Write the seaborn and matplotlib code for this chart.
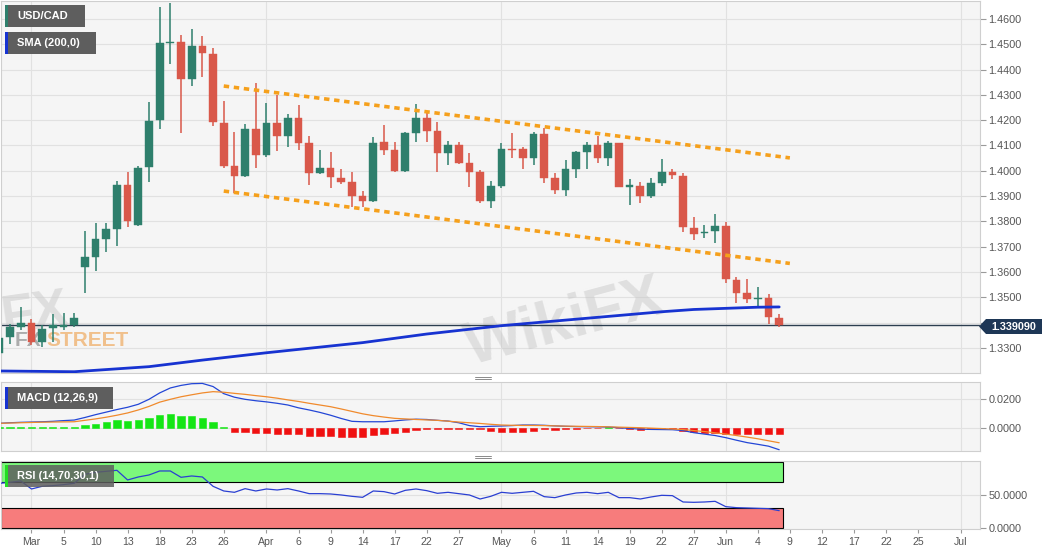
import numpy as np
import pandas as pd
import matplotlib
matplotlib.use("Agg")
import matplotlib.pyplot as plt
from matplotlib.patches import Rectangle, Polygon
from matplotlib.lines import Line2D
import seaborn as sns

# ---- data ----
start_day = "2020-02-26"

opens = [1.3280, 1.3342, 1.3384, 1.3400, 1.3322, 1.3379, 1.3381, 1.3391,
         1.3621, 1.3660, 1.3730, 1.3770, 1.3944, 1.3786, 1.4016, 1.4201, 1.4504, 1.4510,
         1.4363, 1.4493, 1.4462, 1.4190, 1.4019, 1.3981, 1.4164, 1.4062, 1.4188, 1.4138,
         1.4208, 1.4109, 1.3992, 1.4010, 1.3973, 1.3955, 1.3902, 1.3882, 1.4113, 1.4082,
         1.3999, 1.4148, 1.4208, 1.4158, 1.4072, 1.4102, 1.4032, 1.3996, 1.3881, 1.3941,
         1.4088, 1.4086, 1.4049, 1.4144, 1.3970, 1.3924, 1.4006, 1.4075, 1.4100, 1.4052,
         1.4109, 1.3937, 1.3940, 1.3900, 1.3953, 1.3996, 1.3980, 1.3775, 1.3753, 1.3762,
         1.3782, 1.3568, 1.3516, 1.3493, 1.3498, 1.3417]
highs = [1.3345, 1.3394, 1.3460, 1.3413, 1.3390, 1.3435, 1.3437, 1.3437,
         1.3762, 1.3792, 1.3792, 1.3960, 1.3994, 1.4020, 1.4273, 1.4649, 1.4664, 1.4537,
         1.4559, 1.4533, 1.4484, 1.4276, 1.4153, 1.4184, 1.4348, 1.4269, 1.4300, 1.4225,
         1.4260, 1.4138, 1.4082, 1.4075, 1.4006, 1.3996, 1.3920, 1.4132, 1.4180, 1.4115,
         1.4152, 1.4263, 1.4234, 1.4194, 1.4119, 1.4115, 1.4072, 1.4003, 1.3960, 1.4109,
         1.4151, 1.4093, 1.4155, 1.4168, 1.3990, 1.4043, 1.4080, 1.4113, 1.4138, 1.4118,
         1.4111, 1.3966, 1.3957, 1.3970, 1.4045, 1.4006, 1.3990, 1.3819, 1.3786, 1.3829,
         1.3799, 1.3582, 1.3571, 1.3540, 1.3513, 1.3434]
lows = [1.3270, 1.3315, 1.3370, 1.3310, 1.3305, 1.3325, 1.3370, 1.3384,
        1.3516, 1.3605, 1.3678, 1.3704, 1.3779, 1.3780, 1.3957, 1.4164, 1.4421, 1.4148,
        1.4335, 1.4372, 1.4177, 1.4010, 1.3913, 1.3975, 1.4010, 1.4055, 1.4078, 1.4093,
        1.4082, 1.3944, 1.3987, 1.3931, 1.3948, 1.3858, 1.3858, 1.3876, 1.4062, 1.3995,
        1.3995, 1.4113, 1.4113, 1.3996, 1.4023, 1.4027, 1.3935, 1.3874, 1.3852, 1.3931,
        1.4049, 1.4006, 1.4023, 1.3951, 1.3908, 1.3900, 1.3970, 1.4006, 1.4030, 1.4019,
        1.3935, 1.3865, 1.3872, 1.3891, 1.3940, 1.3966, 1.3759, 1.3726, 1.3733, 1.3716,
        1.3555, 1.3479, 1.3476, 1.3463, 1.3394, 1.3384]
closes = [1.3339, 1.3384, 1.3400, 1.3325, 1.3374, 1.3391, 1.3392, 1.3417,
          1.3660, 1.3729, 1.3769, 1.3944, 1.3803, 1.4010, 1.4198, 1.4504, 1.4510, 1.4363,
          1.4493, 1.4464, 1.4192, 1.4019, 1.3981, 1.4165, 1.4062, 1.4188, 1.4138, 1.4208,
          1.4111, 1.3992, 1.4010, 1.3974, 1.3956, 1.3902, 1.3882, 1.4111, 1.4082, 1.3999,
          1.4148, 1.4208, 1.4158, 1.4072, 1.4102, 1.4032, 1.3996, 1.3881, 1.3941, 1.4086,
          1.4083, 1.4049, 1.4144, 1.3970, 1.3924, 1.4006, 1.4075, 1.4100, 1.4049, 1.4109,
          1.3937, 1.3941, 1.3900, 1.3953, 1.3996, 1.3983, 1.3777, 1.3750, 1.3759, 1.3782,
          1.3571, 1.3518, 1.3493, 1.3498, 1.3421, 1.33909]
last_price = 1.33909

sma_days = ["2020-02-26", "2020-03-06", "2020-03-17", "2020-03-24", "2020-04-01",
            "2020-04-14", "2020-04-22", "2020-05-01", "2020-05-14", "2020-05-22",
            "2020-05-27", "2020-06-04", "2020-06-08"]
sma_vals = [1.3209, 1.3206, 1.3226, 1.3252, 1.3281, 1.3321, 1.3355, 1.3388,
            1.3421, 1.3443, 1.3452, 1.3461, 1.3462]

channel_days = ["2020-03-26", "2020-06-09"]
channel_upper = [1.4335, 1.4051]
channel_lower = [1.3920, 1.3634]

macd = [0.0031, 0.0035, 0.0038, 0.0040, 0.0042, 0.0045, 0.0050, 0.0054,
        0.0072, 0.0092, 0.0110, 0.0128, 0.0144, 0.0165, 0.0200, 0.0245, 0.0280, 0.0298,
        0.0310, 0.0312, 0.0290, 0.0240, 0.0215, 0.0200, 0.0190, 0.0182, 0.0172, 0.0160,
        0.0140, 0.0125, 0.0108, 0.0088, 0.0065, 0.0045, 0.0042, 0.0042, 0.0042, 0.0048,
        0.0055, 0.0060, 0.0058, 0.0052, 0.0047, 0.0035, 0.0015, 0.0007, 0.0010, 0.0012,
        0.0015, 0.0019, 0.0019, 0.0017, 0.0013, 0.0010, 0.0008, 0.0007, 0.0006, 0.0005,
        0.0000, -0.0005, -0.0010, -0.0012, -0.0013, -0.0014, -0.0020, -0.0035, -0.0045, -0.0055,
        -0.0070, -0.0088, -0.0105, -0.0117, -0.0130, -0.0155]
signal = [0.0031, 0.0033, 0.0035, 0.0037, 0.0039, 0.0040, 0.0041, 0.0042,
          0.0052, 0.0062, 0.0074, 0.0088, 0.0104, 0.0125, 0.0150, 0.0180, 0.0200, 0.0218,
          0.0232, 0.0245, 0.0254, 0.0250, 0.0242, 0.0235, 0.0226, 0.0218, 0.0208, 0.0196,
          0.0185, 0.0172, 0.0160, 0.0148, 0.0132, 0.0115, 0.0098, 0.0085, 0.0075, 0.0066,
          0.0062, 0.0058, 0.0055, 0.0052, 0.0046, 0.0040, 0.0035, 0.0030, 0.0024, 0.0019,
          0.0017, 0.0016, 0.0016, 0.0015, 0.0013, 0.0011, 0.0010, 0.0009, 0.0008, 0.0006,
          0.0004, 0.0002, 0.0000, -0.0003, -0.0006, -0.0009, -0.0013, -0.0020, -0.0027, -0.0036,
          -0.0045, -0.0055, -0.0066, -0.0078, -0.0092, -0.0106]
hist = [0.0003, 0.0004, 0.0004, 0.0004, 0.0004, 0.0004, 0.0004, 0.0005,
        0.0019, 0.0028, 0.0038, 0.0052, 0.0049, 0.0056, 0.0066, 0.0089, 0.0094, 0.0085,
        0.0080, 0.0066, 0.0038, 0.0005, -0.0028, -0.0033, -0.0040, -0.0040, -0.0042, -0.0042,
        -0.0045, -0.0056, -0.0059, -0.0061, -0.0063, -0.0068, -0.0066, -0.0052, -0.0042, -0.0040,
        -0.0028, -0.0016, -0.0008, -0.0008, -0.0008, -0.0008, -0.0008, -0.0010, -0.0023, -0.0033,
        -0.0033, -0.0028, -0.0021, -0.0010, -0.0016, -0.0012, -0.0010, -0.0004, -0.0003, 0.0003,
        -0.0005, -0.0006, -0.0014, -0.0012, -0.0009, -0.0009, -0.0020, -0.0028, -0.0035, -0.0040,
        -0.0045, -0.0045, -0.0045, -0.0045, -0.0045, -0.0045]
rsi = [67.5, 69, 71, 59, 63, 64, 65.5, 67.5,
       81, 84, 85.5, 87, 72.5, 77, 80, 86, 86, 76.5,
       78.5, 77, 63, 56, 54, 59.5, 56, 59, 57.5, 59.5,
       56, 52, 52, 51.5, 50, 48, 46.5, 56, 55, 51.5,
       57, 59, 56.5, 52.5, 54, 52, 50, 44, 48, 54,
       52.5, 54, 55.5, 47.5, 46, 50, 53, 54, 52, 54,
       46, 46, 44, 47, 49.5, 49, 39.5, 39, 39.5, 40.5,
       32.5, 31, 30.5, 30, 29.5, 26.5]

tick_days = ["2020-03-02", "2020-03-05", "2020-03-10", "2020-03-13", "2020-03-18",
             "2020-03-23", "2020-03-26", "2020-04-01", "2020-04-06", "2020-04-09",
             "2020-04-14", "2020-04-17", "2020-04-22", "2020-04-27", "2020-05-01",
             "2020-05-06", "2020-05-11", "2020-05-14", "2020-05-19", "2020-05-22",
             "2020-05-27", "2020-06-01", "2020-06-04", "2020-06-09", "2020-06-12",
             "2020-06-17", "2020-06-22", "2020-06-25", "2020-07-01"]
tick_labels = ["Mar", "5", "10", "13", "18", "23", "26", "Apr", "6", "9", "14", "17",
               "22", "27", "May", "6", "11", "14", "19", "22", "27", "Jun", "4", "9",
               "12", "17", "22", "25", "Jul"]
month_days = ["2020-03-02", "2020-04-01", "2020-05-01", "2020-06-01", "2020-07-01"]

# trading-day axis (weekends skipped)
cal = pd.bdate_range(start_day, "2020-07-01")
pos = {d.strftime("%Y-%m-%d"): i for i, d in enumerate(cal)}
x = np.arange(len(opens))

GREEN = "#2e7f6c"
RED = "#d9584a"
BG = "#f5f5f5"
GRID = "#e1e1e1"
W, H = 1060, 555


def fx(px):
    return px / W


def fy(py):
    return 1 - py / H


sns.set_theme(style="white")
plt.rcParams["font.family"] = ["Liberation Sans", "DejaVu Sans"]

fig = plt.figure(figsize=(W / 100, H / 100), dpi=100)
fig.patch.set_facecolor("white")
ax = fig.add_axes([fx(0.5), fy(373), fx(979.5), 372 / H])
axm = fig.add_axes([fx(0.5), fy(451), fx(979.5), 69 / H], sharex=ax)
axr = fig.add_axes([fx(0.5), fy(529), fx(979.5), 68.3 / H], sharex=ax)

for a in (ax, axm, axr):
    a.set_facecolor(BG)
    for s in a.spines.values():
        s.set_color("#cfcfcf")
        s.set_linewidth(0.8)
    a.yaxis.tick_right()
    a.tick_params(axis="y", length=4, width=0.8, color="#9a9a9a", labelcolor="#555555",
                  labelsize=7.8, pad=2, right=True, left=False)
    for m in month_days:
        a.axvline(pos[m], color=GRID, lw=0.8, zorder=0)
    a.grid(False)

# ---- main price panel ----
ax.set_ylim(1.3201, 1.4671)
yt = np.round(np.arange(1.33, 1.4601, 0.01), 2)
ax.set_yticks(yt)
ax.set_yticklabels(["" if abs(v - 1.34) < 1e-6 else f"{v:.4f}" for v in yt])
for v in yt:
    ax.axhline(v, color=GRID, lw=0.8, zorder=0)

# watermarks (behind the data)
ax.text(fx(-2), fy(333), "FX", transform=fig.transFigure, fontsize=38, fontweight="bold",
        color="#cfcfcf", alpha=0.6, rotation=8, zorder=0.5)
ax.text(fx(15), fy(341), "FX", transform=fig.transFigure, fontsize=15, fontweight="bold",
        color="#9a9a9a", alpha=0.8, va="center", zorder=0.5)
ax.text(fx(46), fy(341), "STREET", transform=fig.transFigure, fontsize=15, fontweight="bold",
        color="#f0b77a", alpha=0.85, va="center", zorder=0.5)
ax.text(fx(565), fy(324), "WikiFX", transform=fig.transFigure, fontsize=44, fontweight="bold",
        color="#c4c4c4", alpha=0.45, rotation=15, ha="center", va="center", zorder=0.5)

ax.axhline(last_price, color="#2c3e50", lw=1, zorder=1.5)

o = np.array(opens)
c = np.array(closes)
up = c >= o
cols = np.where(up, GREEN, RED)
ax.vlines(x, lows, highs, colors=cols, lw=1.1, zorder=3)
body = np.maximum(np.abs(c - o), 0.0005)
ax.bar(x, body, bottom=np.minimum(o, c), width=0.72, color=cols, edgecolor=cols,
       linewidth=0.3, zorder=4)

sma_x = [pos[d] for d in sma_days]
sns.lineplot(x=sma_x, y=sma_vals, ax=ax, color="#1733d1", lw=2.0, zorder=5, legend=False)

ch_x = [pos[d] for d in channel_days]
for line in (channel_upper, channel_lower):
    ax.plot(ch_x, line, color="#f5a01c", lw=2.6, ls=(0, (1.5, 1.3)), zorder=5,
            dash_capstyle="butt")

# ---- MACD panel ----
axm.set_ylim(-0.0164, 0.0322)
axm.set_yticks([0.02, 0.0])
axm.set_yticklabels(["0.0200", "0.0000"])
for v in (0.02, 0.0):
    axm.axhline(v, color=GRID, lw=0.8, zorder=0)
h = np.array(hist)
hcols = np.where(h >= 0, "#14e614", "#f01010")
axm.bar(x, h, width=0.68, color=hcols, edgecolor=hcols, linewidth=0.4, zorder=3)
sns.lineplot(x=x, y=macd, ax=axm, color="#2346d6", lw=0.9, zorder=4, legend=False)
sns.lineplot(x=x, y=signal, ax=axm, color="#f08a2c", lw=0.9, zorder=4, legend=False)

# ---- RSI panel ----
axr.set_ylim(-1.0, 101.4)
axr.set_yticks([50, 0])
axr.set_yticklabels(["50.0000", "0.0000"])
axr.axhline(50, color=GRID, lw=0.8, zorder=0)
zone_end = x[-1] + 0.4
axr.add_patch(Rectangle((0.1, 70), zone_end - 0.1, 30, fc="#7cf87c", ec="black", lw=0.8, zorder=1))
axr.add_patch(Rectangle((0.1, 0), zone_end - 0.1, 30, fc="#f77c7c", ec="black", lw=0.8, zorder=1))
sns.lineplot(x=x, y=rsi, ax=axr, color="#2a3fd2", lw=0.9, zorder=4, legend=False)

for a in (ax, axm):
    a.tick_params(axis="x", bottom=False, labelbottom=False)
axr.set_xticks([pos[d] for d in tick_days])
axr.set_xticklabels(tick_labels)
axr.tick_params(axis="x", bottom=True, length=3, width=0.8, color="#9a9a9a",
                labelcolor="#555555", labelsize=7.6, pad=3)
for a in (ax, axm, axr):
    a.set_xlabel("")
    a.set_ylabel("")
ax.set_xlim(0.1, 91.8)


# ---- label boxes ----
def tag(x0, y0, x1, y1, text, stripe, alpha=1.0):
    fig.patches.append(Rectangle((fx(x0), fy(y1)), fx(x1 - x0), (y1 - y0) / H,
                                 transform=fig.transFigure, fc="#5e5e5e", ec="none",
                                 alpha=alpha, zorder=5))
    fig.patches.append(Rectangle((fx(x0), fy(y1)), fx(3), (y1 - y0) / H,
                                 transform=fig.transFigure, fc=stripe, ec="none", zorder=5))
    fig.text(fx(x0 + 12), fy((y0 + y1) / 2), text, color="white", fontsize=8,
             fontweight="bold", va="center", ha="left", zorder=6)


tag(5, 5, 85, 27, "USD/CAD", GREEN)
tag(5, 32, 96, 54, "SMA (200,0)", "#1733d1")
tag(5, 387, 113, 409, "MACD (12,26,9)", "#1733d1")
tag(5, 465, 114, 487, "RSI (14,70,30,1)", "#22dd22", alpha=0.85)

# last price marker
fig.patches.append(Polygon([[fx(979), fy(326.5)], [fx(986), fy(319)], [fx(1042), fy(319)],
                            [fx(1042), fy(334)], [fx(986), fy(334)]], closed=True,
                           transform=fig.transFigure, fc="#1e3756", ec="none", zorder=5))
fig.text(fx(1014), fy(326.5), f"{last_price:.6f}", color="white", fontsize=7.8,
         fontweight="bold", ha="center", va="center", zorder=6)

# panel grips
for yy in (376.5, 455.5):
    for dy in (0, 2.5):
        fig.add_artist(Line2D([fx(475), fx(491)], [fy(yy + dy), fy(yy + dy)],
                              color="#8a8a8a", lw=0.7))

fig.savefig("out.png", dpi=100)
